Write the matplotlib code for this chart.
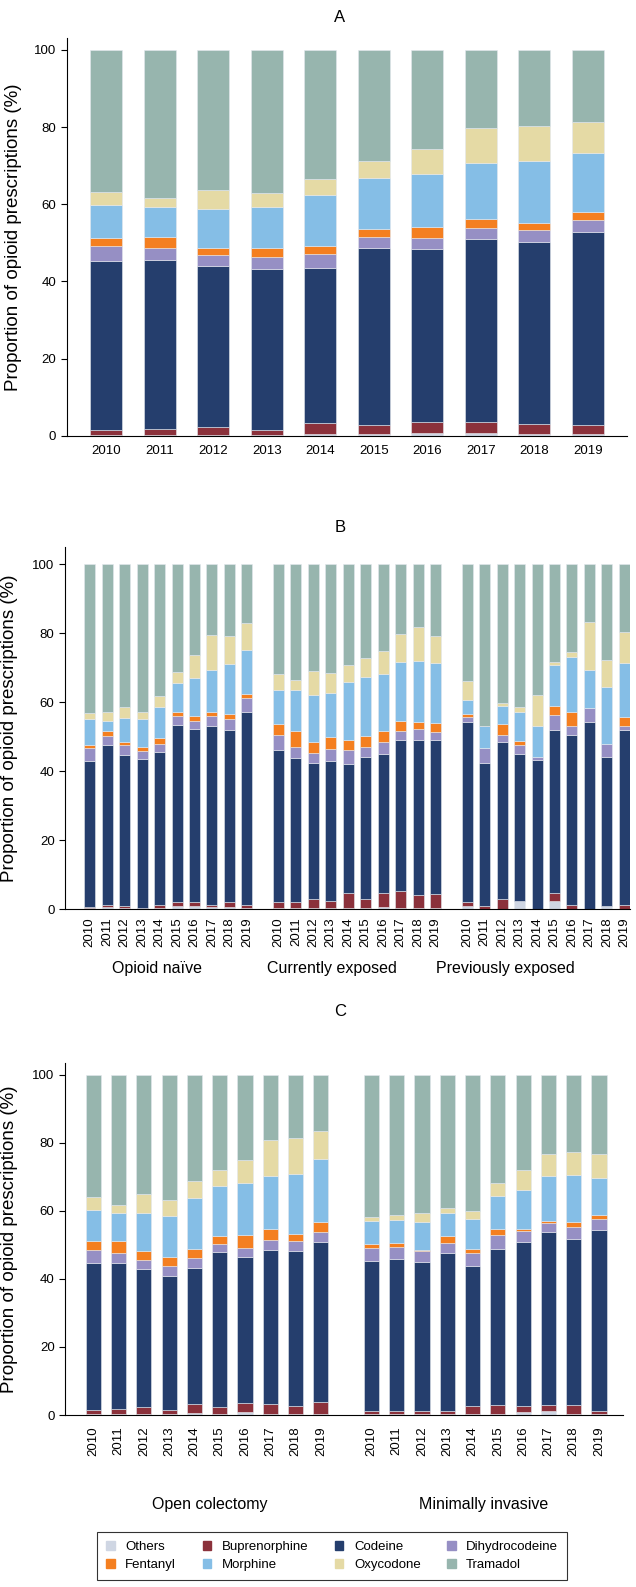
import matplotlib
matplotlib.use("Agg")
import matplotlib.pyplot as plt
import numpy as np

plt.rcParams['font.family'] = ['Liberation Sans', 'DejaVu Sans']

years = ['2010', '2011', '2012', '2013', '2014', '2015', '2016', '2017', '2018', '2019']
drugs = ['Others', 'Buprenorphine', 'Codeine', 'Dihydrocodeine',
         'Fentanyl', 'Morphine', 'Oxycodone', 'Tramadol']
colors = ['#cfd6e3', '#8b313b', '#253e6d', '#968fc4',
          '#f47f20', '#85bee6', '#e5daa5', '#97b5ae']

# panel A: all patients, % per drug (bottom to top)
a_others = [0.3, 0.3, 0.3, 0.3, 0.4, 0.5, 0.8, 0.7, 0.5, 0.5]
a_bup = [1.3, 1.5, 1.9, 1.3, 2.8, 2.4, 2.8, 2.9, 2.6, 2.4]
a_cod = [43.7, 43.7, 41.7, 41.7, 40.4, 45.7, 44.8, 47.3, 47.0, 49.8]
a_dhc = [3.9, 3.1, 2.9, 2.9, 3.4, 2.8, 2.9, 3.0, 3.1, 3.1]
a_fen = [2.1, 2.9, 1.9, 2.4, 2.3, 2.3, 2.7, 2.2, 1.9, 2.3]
a_mor = [8.6, 7.9, 10.2, 10.6, 13.0, 13.2, 13.9, 14.6, 16.2, 15.2]
a_oxy = [3.4, 2.2, 4.9, 3.8, 4.3, 4.3, 6.5, 9.2, 9.0, 7.9]
a_tra = [36.7, 38.4, 36.2, 37.0, 33.4, 28.8, 25.6, 20.1, 19.7, 18.8]

# panel B: by prior opioid exposure
b_groups = ['Opioid naïve', 'Currently exposed', 'Previously exposed']
naive_others = [0.2, 0.5, 0.4, 0.1, 0.4, 0.8, 1.0, 0.5, 0.7, 0.4]
naive_bup = [0.4, 0.7, 0.6, 0.2, 0.8, 1.3, 1.1, 0.7, 1.2, 0.8]
naive_cod = [42.2, 46.3, 43.7, 43.1, 44.3, 51.4, 50.1, 51.9, 49.9, 55.8]
naive_dhc = [3.9, 2.7, 2.8, 2.5, 2.5, 2.6, 2.3, 3.0, 3.3, 4.1]
naive_fen = [0.8, 1.5, 1.0, 1.1, 1.6, 1.0, 1.6, 1.1, 1.6, 1.4]
naive_mor = [7.7, 2.9, 7.0, 8.0, 9.1, 8.4, 10.8, 12.1, 14.3, 12.7]
naive_oxy = [1.6, 2.6, 3.1, 2.2, 3.2, 3.3, 6.7, 10.2, 8.1, 7.9]
naive_tra = [43.2, 42.8, 41.4, 42.8, 38.1, 31.2, 26.4, 20.5, 20.9, 16.9]

curr_others = [0.3, 0.3, 0.4, 0.3, 0.4, 0.3, 0.6, 0.3, 0.3, 0.3]
curr_bup = [1.8, 1.6, 2.4, 2.0, 4.3, 2.7, 4.0, 4.9, 3.7, 4.1]
curr_cod = [43.9, 41.8, 39.5, 40.7, 37.4, 41.0, 40.3, 43.7, 45.1, 44.5]
curr_dhc = [4.4, 3.3, 3.0, 3.3, 3.9, 2.9, 3.6, 2.6, 3.0, 2.4]
curr_fen = [3.4, 4.5, 3.0, 3.5, 3.1, 3.3, 3.2, 3.1, 2.0, 2.7]
curr_mor = [9.8, 12.0, 13.8, 12.9, 16.8, 17.2, 16.5, 17.0, 17.9, 17.4]
curr_oxy = [4.6, 2.9, 7.0, 5.7, 4.9, 5.5, 6.6, 8.2, 9.7, 7.7]
curr_tra = [31.8, 33.6, 30.9, 31.6, 29.2, 27.1, 25.2, 20.2, 18.3, 20.9]

prev_others = [1.0, 0.0, 0.0, 2.3, 0.0, 2.3, 0.0, 0.0, 1.0, 0.0]
prev_bup = [1.1, 1.0, 3.0, 0.0, 0.0, 2.3, 1.2, 0.0, 0.0, 1.2]
prev_cod = [52.2, 41.3, 45.3, 42.7, 43.1, 47.2, 49.4, 54.1, 43.2, 50.6]
prev_dhc = [1.4, 4.4, 2.1, 2.5, 1.1, 4.5, 2.6, 4.1, 3.7, 1.3]
prev_fen = [0.8, 0.0, 3.3, 1.2, 0.0, 2.5, 4.0, 0.0, 0.0, 2.7]
prev_mor = [4.2, 6.5, 5.3, 8.5, 8.8, 11.9, 16.0, 11.2, 16.6, 15.6]
prev_oxy = [5.5, 0.0, 0.8, 1.4, 9.0, 1.0, 1.3, 13.9, 7.6, 8.9]
prev_tra = [33.8, 46.8, 40.2, 41.4, 38.0, 28.3, 25.5, 16.7, 27.9, 19.7]

# panel C: by surgical approach
c_groups = ['Open colectomy', 'Minimally invasive']
open_others = [0.3, 0.3, 0.4, 0.3, 0.5, 0.3, 0.8, 0.2, 0.4, 0.4]
open_bup = [1.2, 1.5, 1.9, 1.2, 2.7, 2.1, 2.8, 3.1, 2.3, 3.5]
open_cod = [43.2, 43.0, 40.6, 39.5, 40.0, 45.6, 42.9, 45.3, 45.5, 46.9]
open_dhc = [3.9, 2.9, 2.8, 2.8, 2.9, 2.2, 2.7, 2.9, 3.0, 3.0]
open_fen = [2.5, 3.4, 2.5, 2.6, 2.8, 2.5, 3.7, 3.1, 2.1, 3.0]
open_mor = [9.1, 8.4, 11.1, 12.2, 14.9, 14.7, 15.3, 15.6, 17.6, 18.4]
open_oxy = [4.0, 2.3, 5.7, 4.7, 5.1, 4.6, 6.7, 10.8, 10.6, 8.4]
open_tra = [35.8, 38.2, 35.0, 36.7, 31.1, 28.0, 25.1, 19.0, 18.5, 16.4]

mis_others = [0.2, 0.2, 0.3, 0.3, 0.2, 0.4, 0.8, 1.2, 0.4, 0.2]
mis_bup = [1.0, 1.0, 0.8, 1.0, 2.3, 2.5, 1.9, 1.8, 2.6, 1.0]
mis_cod = [44.1, 44.6, 44.0, 46.2, 41.3, 45.9, 48.2, 50.9, 48.7, 53.2]
mis_dhc = [3.9, 3.7, 3.0, 3.2, 3.8, 4.0, 3.3, 2.5, 3.5, 3.2]
mis_fen = [1.2, 1.1, 0.5, 1.8, 1.3, 2.0, 0.6, 0.7, 1.5, 1.3]
mis_mor = [6.7, 6.8, 8.2, 6.9, 8.7, 9.7, 11.4, 13.1, 14.0, 10.9]
mis_oxy = [1.2, 1.5, 2.6, 1.5, 2.5, 3.7, 5.9, 6.6, 6.7, 6.8]
mis_tra = [41.7, 41.1, 40.6, 39.1, 39.9, 31.8, 27.9, 23.2, 22.6, 23.4]

panel_a = [[a_others, a_bup, a_cod, a_dhc, a_fen, a_mor, a_oxy, a_tra]]
panel_b = [[naive_others, naive_bup, naive_cod, naive_dhc, naive_fen, naive_mor, naive_oxy, naive_tra],
           [curr_others, curr_bup, curr_cod, curr_dhc, curr_fen, curr_mor, curr_oxy, curr_tra],
           [prev_others, prev_bup, prev_cod, prev_dhc, prev_fen, prev_mor, prev_oxy, prev_tra]]
panel_c = [[open_others, open_bup, open_cod, open_dhc, open_fen, open_mor, open_oxy, open_tra],
           [mis_others, mis_bup, mis_cod, mis_dhc, mis_fen, mis_mor, mis_oxy, mis_tra]]

W, H = 636, 1587
fig = plt.figure(figsize=(W / 100, H / 100), dpi=100)


def px_axes(left, top, right, bottom):
    return fig.add_axes([left / W, 1 - bottom / H, (right - left) / W, (bottom - top) / H])


def stacked(ax, groups, offset, width):
    pos_all = []
    for g, series in enumerate(groups):
        x = np.arange(len(years)) + g * offset
        base = np.zeros(len(years))
        for vals, c in zip(series, colors):
            ax.bar(x, vals, width, bottom=base, color=c, edgecolor='#e4e8ee', linewidth=0.4)
            base += np.array(vals)
        pos_all.extend(x)
    return np.array(pos_all)


def style(ax, ytop, lx):
    ax.set_ylim(0, ytop)
    ax.set_yticks([0, 20, 40, 60, 80, 100])
    ax.spines['top'].set_visible(False)
    ax.spines['right'].set_visible(False)
    ax.tick_params(axis='y', labelsize=9.5, length=4, width=0.8)
    ax.tick_params(axis='x', length=0, labelsize=9.5)
    ax.set_ylabel('Proportion of opioid prescriptions (%)', fontsize=13.5)
    # ylabel centre given in figure pixels
    ax.yaxis.set_label_coords(lx / W, 0.5, transform=fig.transFigure)
    ax.yaxis.label.set_transform(matplotlib.transforms.blended_transform_factory(fig.transFigure, ax.transAxes))


# A
axA = px_axes(66.7, 38.4, 627, 435.7)
pos = stacked(axA, panel_a, 0, 0.6)
axA.set_xlim(-0.74, 9.73)
axA.set_xticks(pos)
axA.set_xticklabels(years)
style(axA, 103, 22)
axA.tick_params(axis='x', pad=7)
fig.text(340 / W, 1 - 18 / H, 'A', ha='center', va='center', fontsize=12)

# B
axB = px_axes(65, 547, 630, 909)
pos = stacked(axB, panel_b, 10.8, 0.63)
axB.set_xlim(-1.41, 30.92)
axB.set_xticks(pos)
axB.set_xticklabels(years * 3, rotation=90)
style(axB, 105, 18)
axB.tick_params(axis='x', pad=6)
fig.text(340 / W, 1 - 528 / H, 'B', ha='center', va='center', fontsize=12)
for lab, xp in zip(b_groups, [157.5, 332, 505]):
    fig.text(xp / W, 1 - 969 / H, lab, ha='center', va='center', fontsize=11.5)

# C
axC = px_axes(65, 1063, 623, 1415)
pos = stacked(axC, panel_c, 11, 0.6)
axC.set_xlim(-1.12, 20.95)
axC.set_xticks(pos)
axC.set_xticklabels(years * 2, rotation=90)
style(axC, 103.5, 18)
axC.tick_params(axis='x', pad=8)
fig.text(340 / W, 1 - 1011 / H, 'C', ha='center', va='center', fontsize=12)
for lab, xp in zip(c_groups, [210, 484]):
    fig.text(xp / W, 1 - 1505 / H, lab, ha='center', va='center', fontsize=11.5)

# legend filled row by row (matplotlib fills by column)
handles = [plt.Rectangle((0, 0), 1, 1, color=c) for c in colors]
order = [0, 4, 1, 5, 2, 6, 3, 7]
leg = fig.legend([handles[i] for i in order], [drugs[i] for i in order], ncol=4,
                 loc='upper left', bbox_to_anchor=(97 / W, 1 - 1532 / H), fontsize=9.5,
                 frameon=True, fancybox=False, edgecolor='black', borderaxespad=0,
                 handlelength=0.65, handleheight=0.65, handletextpad=0.8,
                 columnspacing=2.0, borderpad=0.7, labelspacing=0.45)
leg.get_frame().set_linewidth(0.8)

fig.savefig('out.png', dpi=100)
